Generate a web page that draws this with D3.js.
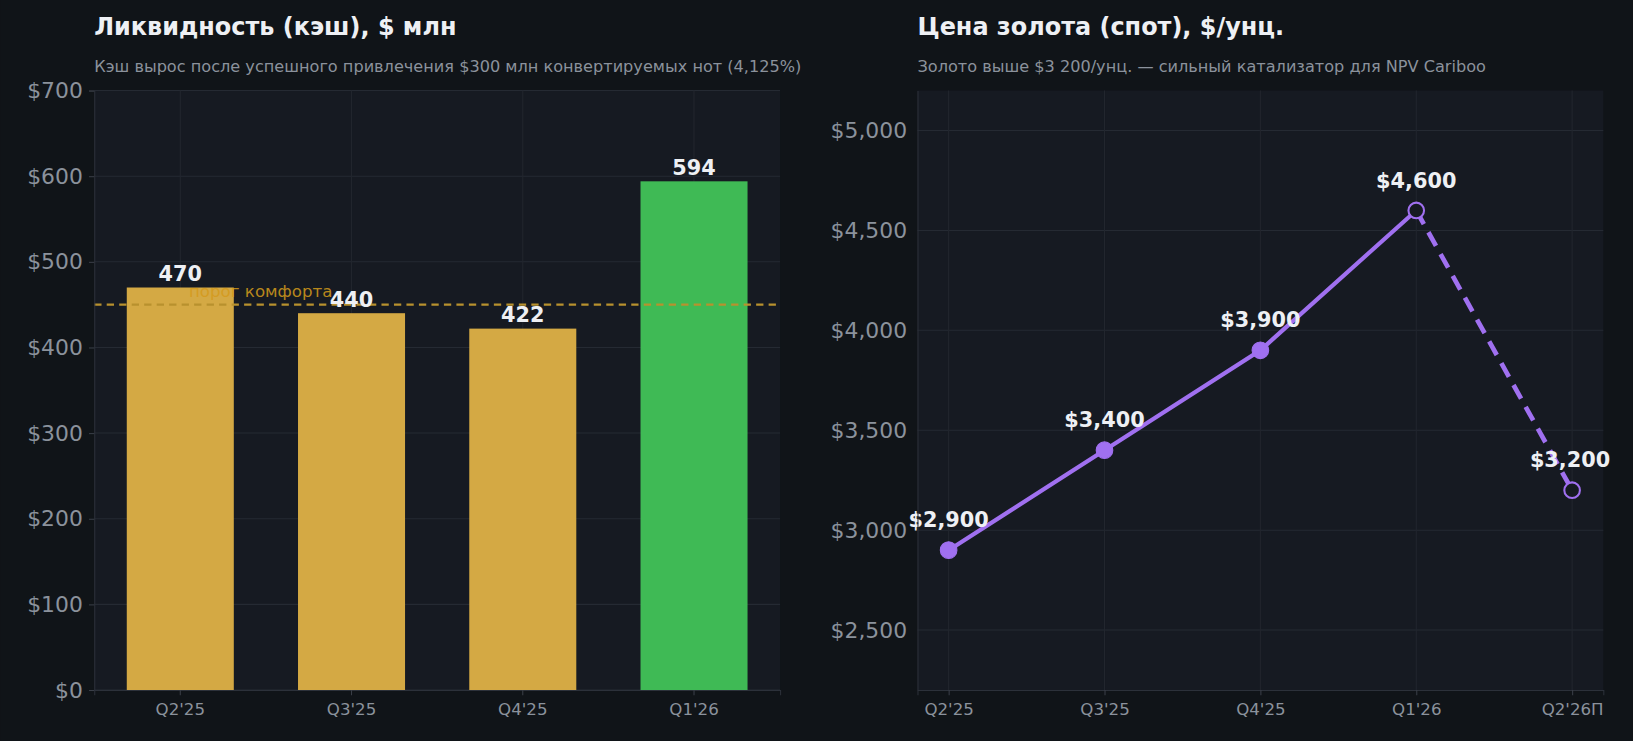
<!DOCTYPE html><html><head><meta charset="utf-8"><script src="https://cdn.jsdelivr.net/npm/d3@7"></script>
<style>body{margin:0;background:#101418}svg{display:block}</style></head><body><svg id="c" width="1633" height="741" viewBox="0 0 1568 712"></svg>
<script>
const cashCats=["Q2'25","Q3'25","Q4'25","Q1'26"];
const cashVals=[470,440,422,594];
const cashColors=["#d4a944","#d4a944","#d4a944","#3fba55"];
const cashTicks=[0,100,200,300,400,500,600,700];
const threshold=450;
const goldCats=["Q2'25","Q3'25","Q4'25","Q1'26","Q2'26П"];
const goldVals=[2900,3400,3900,4600,3200];
const goldTicks=[2500,3000,3500,4000,4500,5000];
const svg=d3.select("#c");
svg.append("rect").attr("width",1568).attr("height",712).attr("fill","#101418");
const F="DejaVu Sans";
function panel(x0,x1,y0,y1){svg.append("rect").attr("x",x0).attr("y",y0).attr("width",x1-x0).attr("height",y1-y0).attr("fill","#161a22");}
function styleAxis(g){g.selectAll(".domain").attr("stroke","#2c313a");g.selectAll("line").attr("stroke","#3a3f48");g.selectAll("text").attr("fill","#8b929c").attr("font-family",F);}
// left
const L={x0:90,x1:749,y0:87,y1:663};
panel(L.x0,L.x1,L.y0,L.y1);
const xb=d3.scaleBand().domain(cashCats).range([L.x0,L.x1]).paddingInner(0.375).paddingOuter(0.19);
const yb=d3.scaleLinear().domain([0,700]).range([L.y1,L.y0]);
const gl=svg.append("g");
cashTicks.forEach(t=>gl.append("line").attr("x1",L.x0).attr("x2",L.x1).attr("y1",yb(t)).attr("y2",yb(t)).attr("stroke","#252a33"));
cashCats.forEach(c=>gl.append("line").attr("x1",xb(c)+xb.bandwidth()/2).attr("x2",xb(c)+xb.bandwidth()/2).attr("y1",L.y0).attr("y2",L.y1).attr("stroke","#22262e"));
svg.selectAll(".bar").data(cashVals).enter().append("rect").attr("x",(d,i)=>xb(cashCats[i])).attr("width",xb.bandwidth()).attr("y",d=>yb(d)).attr("height",d=>yb(0)-yb(d)).attr("fill",(d,i)=>cashColors[i]);
svg.append("line").attr("x1",L.x0).attr("x2",L.x1).attr("y1",yb(threshold)).attr("y2",yb(threshold)).attr("stroke","#b8912e").attr("stroke-width",2).attr("stroke-dasharray","7,5");
svg.append("text").attr("x",250).attr("y",yb(threshold)-7).attr("text-anchor","middle").attr("fill","#d49a1c").attr("opacity",0.85).attr("font-family",F).attr("font-size",16).text("порог комфорта");
svg.selectAll(".bl").data(cashVals).enter().append("text").attr("x",(d,i)=>xb(cashCats[i])+xb.bandwidth()/2).attr("y",d=>yb(d)-6).attr("text-anchor","middle").attr("fill","#eef0f4").attr("font-weight","bold").attr("font-family",F).attr("font-size",20).text(d=>d);
const ayl=svg.append("g").attr("transform",`translate(${L.x0},0)`).call(d3.axisLeft(yb).tickValues(cashTicks).tickFormat(d=>"$"+d).tickSize(5).tickPadding(6));
styleAxis(ayl);ayl.selectAll("text").attr("font-size",21);
const axl=svg.append("g").attr("transform",`translate(0,${L.y1})`).call(d3.axisBottom(xb).tickSize(5).tickPadding(8));
styleAxis(axl);axl.selectAll("text").attr("font-size",16);
svg.append("text").attr("x",90).attr("y",34).attr("fill","#eef0f4").attr("font-weight","bold").attr("font-family",F).attr("font-size",23).text("Ликвидность (кэш), $ млн");
svg.append("text").attr("x",90).attr("y",69).attr("fill","#8b929c").attr("font-family",F).attr("font-size",15.5).text("Кэш вырос после успешного привлечения $300 млн конвертируемых нот (4,125%)");
// right
const R={x0:881,x1:1540,y0:87,y1:663};
panel(R.x0,R.x1,R.y0,R.y1);
const xp=d3.scalePoint().domain(goldCats).range([R.x0,R.x1]).padding(0.2);
const yp=d3.scaleLinear().domain([2200,5200]).range([R.y1,R.y0]);
goldTicks.forEach(t=>svg.append("line").attr("x1",R.x0).attr("x2",R.x1).attr("y1",yp(t)).attr("y2",yp(t)).attr("stroke","#252a33"));
goldCats.forEach(c=>svg.append("line").attr("x1",xp(c)).attr("x2",xp(c)).attr("y1",R.y0).attr("y2",R.y1).attr("stroke","#22262e"));
const line=d3.line().x((d,i)=>xp(goldCats[i])).y(d=>yp(d));
const solid=goldVals.slice(0,4);
svg.append("path").attr("d",line(solid)).attr("fill","none").attr("stroke","#a070f0").attr("stroke-width",4);
svg.append("path").attr("d",d3.line().x(d=>xp(d[0])).y(d=>yp(d[1]))([[goldCats[3],goldVals[3]],[goldCats[4],goldVals[4]]])).attr("fill","none").attr("stroke","#a070f0").attr("stroke-width",4.5).attr("stroke-dasharray","15,9");
goldVals.forEach((v,i)=>{const open=i>=3;svg.append("circle").attr("cx",xp(goldCats[i])).attr("cy",yp(v)).attr("r",open?7.5:8).attr("fill",open?"#161a22":"#a070f0").attr("stroke","#a070f0").attr("stroke-width",open?2:1);
svg.append("text").attr("x",xp(goldCats[i])+(i==4?-2:0)).attr("y",yp(v)-22).attr("text-anchor","middle").attr("fill","#eef0f4").attr("font-weight","bold").attr("font-family",F).attr("font-size",20).text("$"+d3.format(",")(v));});
const ayr=svg.append("g").attr("transform",`translate(${R.x0},0)`).call(d3.axisLeft(yp).tickValues(goldTicks).tickFormat(d=>"$"+d3.format(",")(d)).tickSize(0).tickPadding(10));
styleAxis(ayr);ayr.selectAll("text").attr("font-size",21);
const axr=svg.append("g").attr("transform",`translate(0,${R.y1})`).call(d3.axisBottom(xp).tickSize(5).tickPadding(8));
styleAxis(axr);axr.selectAll("text").attr("font-size",16);
svg.append("text").attr("x",881).attr("y",34).attr("fill","#eef0f4").attr("font-weight","bold").attr("font-family",F).attr("font-size",23).text("Цена золота (спот), $/унц.");
svg.append("text").attr("x",881).attr("y",69).attr("fill","#8b929c").attr("font-family",F).attr("font-size",15.5).text("Золото выше $3 200/унц. — сильный катализатор для NPV Cariboo");
</script></body></html>
